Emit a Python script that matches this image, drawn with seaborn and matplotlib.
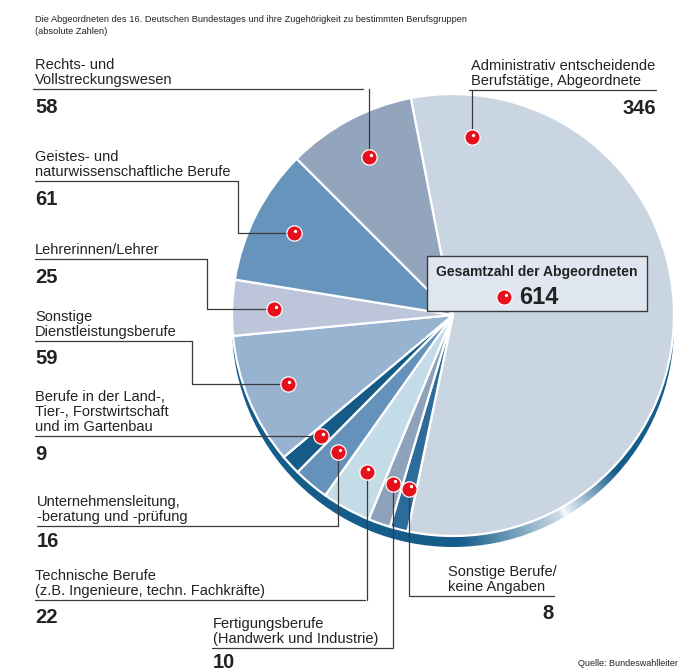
import numpy as np
import matplotlib
matplotlib.use('Agg')
import matplotlib.pyplot as plt
from matplotlib.patches import Circle, Rectangle
import seaborn as sns

# Daten: Abgeordnete des 16. Bundestages nach Berufsgruppen
categories = [
    "Administrativ entscheidende\nBerufstätige, Abgeordnete",
    "Sonstige Berufe/\nkeine Angaben",
    "Fertigungsberufe\n(Handwerk und Industrie)",
    "Technische Berufe\n(z.B. Ingenieure, techn. Fachkräfte)",
    "Unternehmensleitung,\n-beratung und -prüfung",
    "Berufe in der Land-,\nTier-, Forstwirtschaft\nund im Gartenbau",
    "Sonstige\nDienstleistungsberufe",
    "Lehrerinnen/Lehrer",
    "Geistes- und\nnaturwissenschaftliche Berufe",
    "Rechts- und\nVollstreckungswesen",
]
values = [346, 8, 10, 22, 16, 9, 59, 25, 61, 58]
colors = ["#cad5e2", "#2d6b9b", "#8fa2bb", "#c4dce8", "#6592bb",
          "#165b87", "#97b3d0", "#bdc5db", "#6794bc", "#93a5bd"]
total = sum(values)

sns.set_theme(style="white")
plt.rcParams['font.family'] = ['Liberation Sans Narrow', 'Liberation Sans', 'DejaVu Sans']

W, H = 694, 671
fig = plt.figure(figsize=(W / 100, H / 100), dpi=100)
ax = fig.add_axes([0, 0, 1, 1])

def Y(y):
    return H - y

cx, cy, R = 453, Y(315), 221
start = 101

# Rand (3D-Effekt) mit Farbverlauf
rim = Circle((cx, cy - 11), R, facecolor='none', edgecolor='none')
ax.add_patch(rim)
xs = np.arange(cx - R - 2, cx + R + 2, 1.0)
ys = np.arange(cy - 11 - R - 2, cy - 11 + R + 2, 1.0)
XX, YY = np.meshgrid(xs, ys)
ang = np.degrees(np.arctan2(YY - cy, XX - cx))
wv = np.interp(ang, [-180, -88, -62, -60.5, -59.5, -44, 180], [0, 0, 0.8, 1.0, 0.9, 0, 0])
dark = np.array([0x15, 0x5d, 0x8b]) / 255
img = dark[None, None, :] * (1 - wv[..., None]) + np.array([0.97, 0.98, 0.99])[None, None, :] * wv[..., None]
im = ax.imshow(img, extent=(xs[0], xs[-1], ys[0], ys[-1]), origin='lower', zorder=1)
im.set_clip_path(rim)

wedges, _ = ax.pie(values, colors=colors, startangle=start, counterclock=False,
                   center=(cx, cy), radius=R,
                   wedgeprops=dict(edgecolor='white', linewidth=1.6))
for w in wedges:
    w.set_zorder(2)

# Position der roten Punkte im Segment (Anteil des Winkels)
dot_frac = [0.084, 0.5, 0.5, 0.5, 0.5, 0.5, 0.5, 0.5, 0.5, 0.5]
dots = []
acc = 0
for v, f in zip(values, dot_frac):
    a = np.radians(start - 360 * (acc + f * v) / total)
    dots.append((cx + 0.81 * R * np.cos(a), cy + 0.81 * R * np.sin(a)))
    acc += v

# Beschriftungen: Text-x, Linie-y, Linie-x-Bereich, Führung, Zahl-x, Zahl-Abstand
lab = [
    dict(tx=471, ry=90, rx=(469, 656), route='v', nx=656, nha='right', ny=9),
    dict(tx=448, ry=596, rx=(410, 554), route='v', nx=554, nha='right', ny=8),
    dict(tx=213, ry=648, rx=(212, 392), route='v', nx=213, nha='left', ny=5),
    dict(tx=35, ry=600, rx=(35, 365), route='v', nx=35, nha='left', ny=8),
    dict(tx=37, ry=526, rx=(37, 338), route='v', nx=37, nha='left', ny=6),
    dict(tx=35, ry=439, rx=(35, 321), route='h', nx=35, nha='left', ny=9),
    dict(tx=35, ry=341, rx=(35, 192), route='vh', nx=35, nha='left', ny=8),
    dict(tx=35, ry=259, rx=(35, 207), route='vh', nx=35, nha='left', ny=9),
    dict(tx=35, ry=181, rx=(35, 238), route='vh', nx=35, nha='left', ny=9),
    dict(tx=35, ry=89, rx=(33, 363), route='v', nx=35, nha='left', ny=9),
]

lc = '#3a3a3a'
for cat, v, d, L in zip(categories, values, dots, lab):
    ry = Y(L['ry'])
    if L['route'] == 'v':
        ax.plot([L['rx'][0], L['rx'][1]], [ry, ry], color=lc, lw=0.9, zorder=3)
        ax.plot([d[0], d[0]], [ry, d[1]], color=lc, lw=0.9, zorder=3)
    elif L['route'] == 'vh':
        ex = L['rx'][1]
        ax.plot([L['rx'][0], ex, ex, d[0]], [ry, ry, d[1], d[1]], color=lc, lw=0.9, zorder=3)
    else:
        ax.plot([L['rx'][0], d[0]], [d[1], d[1]], color=lc, lw=0.9, zorder=3)
        ry = d[1]
    ax.text(L['tx'], ry + 2, cat, ha='left', va='bottom', fontsize=10.5,
            linespacing=1.12, color='#222222', zorder=4)
    ax.text(L['nx'], ry - L['ny'], str(v), ha=L['nha'], va='top', fontsize=14.5,
            fontweight='bold', color='#222222', zorder=4)

# rote Punkte
def red_dot(x, y):
    ax.plot(x, y, 'o', ms=11, color='#e5101c', mec='white', mew=0.9, zorder=5)
    ax.plot(x + 1.6, y + 2.4, 'o', ms=2.4, color='white', mew=0, zorder=6)

for d in dots:
    red_dot(*d)

# Gesamtzahl-Kasten
ax.add_patch(Rectangle((427, Y(311)), 220, 55, facecolor='#e0e6ef', edgecolor='#3a3a3a',
                       lw=1.0, zorder=4))
ax.text(537, Y(272), "Gesamtzahl der Abgeordneten", ha='center', va='center',
        fontsize=10, fontweight='bold', color='#222222', zorder=5)
ax.text(519, Y(297), str(total), ha='left', va='center', fontsize=17,
        fontweight='bold', color='#222222', zorder=5)
red_dot(504, Y(297))

ax.text(35, Y(15), "Die Abgeordneten des 16. Deutschen Bundestages und ihre Zugehörigkeit "
        "zu bestimmten Berufsgruppen\n(absolute Zahlen)", ha='left', va='top',
        fontsize=6.7, linespacing=1.5, color='#222222')
ax.text(678, Y(663), "Quelle: Bundeswahlleiter", ha='right', va='center',
        fontsize=6.5, color='#222222')

ax.set_xlim(0, W)
ax.set_ylim(0, H)
ax.set_aspect('equal')
ax.axis('off')
fig.savefig('out.png', dpi=100)
